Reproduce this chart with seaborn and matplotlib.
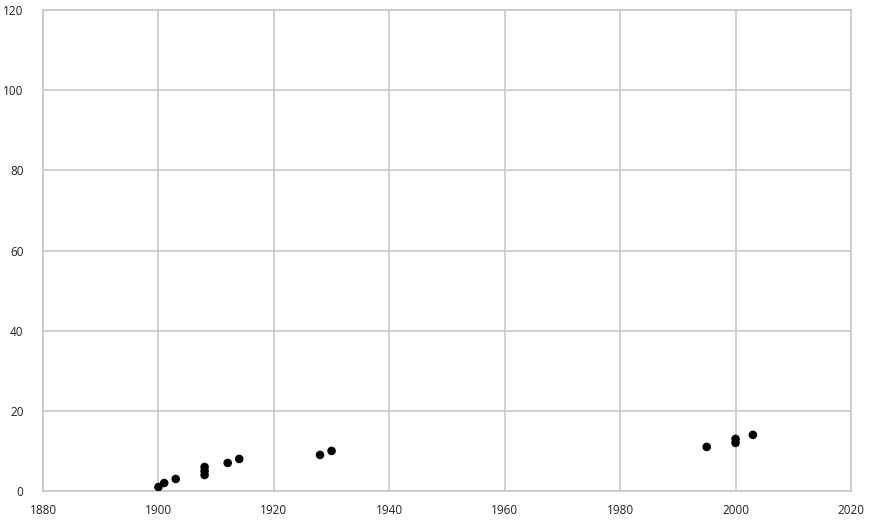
import numpy as np
import pandas as pd
import matplotlib
matplotlib.use("Agg")
import matplotlib.pyplot as plt
import seaborn as sns

years = [1900, 1901, 1903, 1908, 1908, 1908, 1912, 1914, 1928, 1930, 1995, 2000, 2000, 2003]
counts = [1, 2, 3, 4, 5, 6, 7, 8, 9, 10, 11, 12, 13, 14]

data = pd.DataFrame({"year": years, "count": counts})

sns.set_style("white")
plt.rcParams['font.family'] = ['Open Sans', 'DejaVu Sans']

fig = plt.figure(figsize=(8.74, 5.22), dpi=100)
ax = fig.add_axes([43/874, 31/522, 808/874, 481/522])

sns.scatterplot(data=data, x="year", y="count", color="black", s=38,
                edgecolor="none", ax=ax, zorder=3)

ax.set_xlim(1880, 2020)
ax.set_ylim(0, 120)
ax.set_xticks(range(1880, 2021, 20))
ax.set_yticks(range(0, 121, 20))
ax.grid(True, color="#c8c8c8", linewidth=1.2)
ax.set_axisbelow(True)
for s in ax.spines.values():
    s.set_color("#c8c8c8")
    s.set_linewidth(1.2)
ax.tick_params(length=0, labelsize=8.5, colors="#222222")
ax.tick_params(axis="y", pad=14)
ax.tick_params(axis="x", pad=9)
ax.set_xlabel("")
ax.set_ylabel("")

fig.savefig("out.png", dpi=100)
